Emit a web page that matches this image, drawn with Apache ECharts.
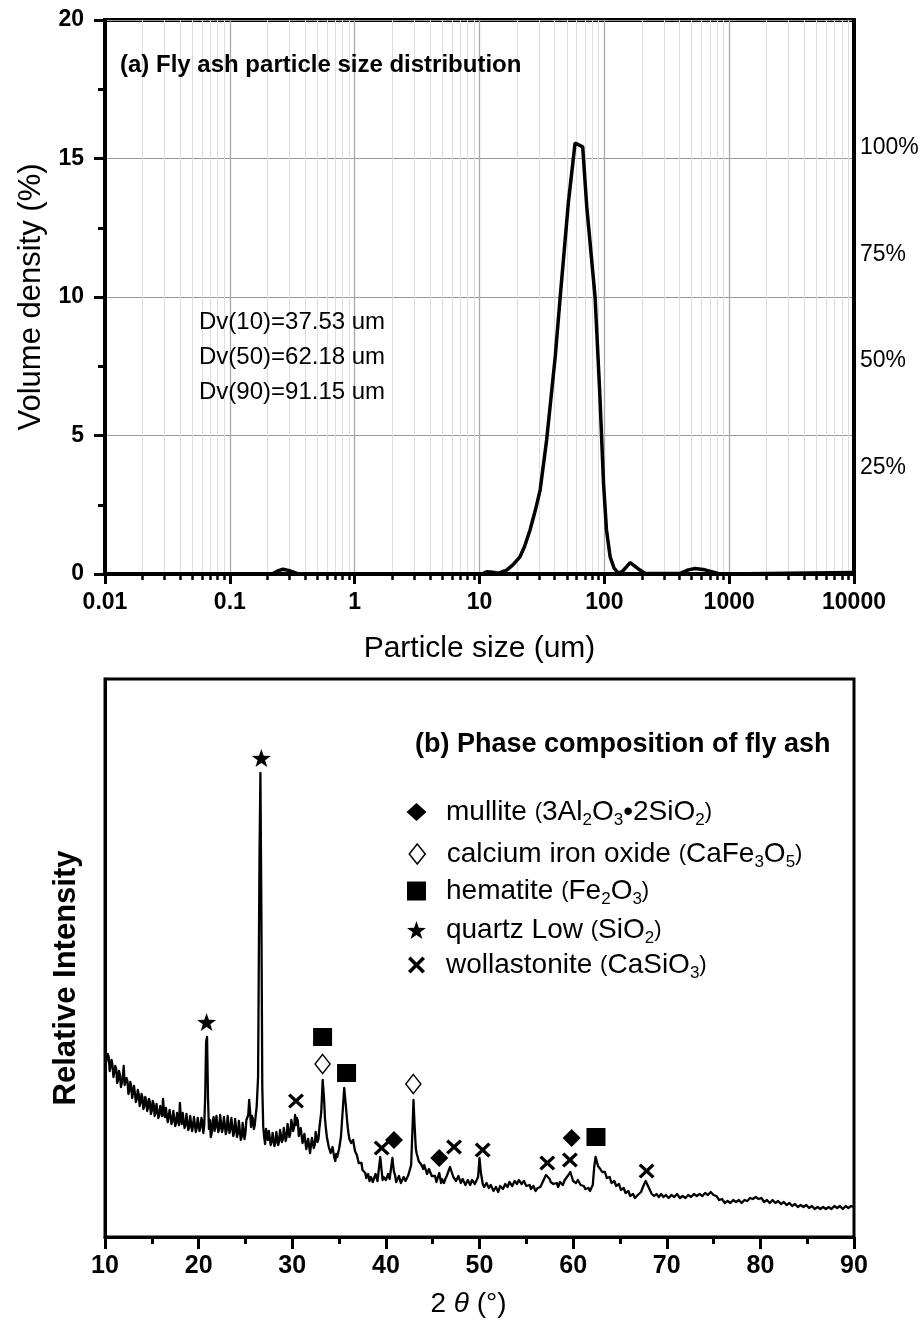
<!DOCTYPE html>
<html><head><meta charset="utf-8">
<script src="https://cdn.jsdelivr.net/npm/echarts@6/dist/echarts.min.js"></script>
<style>html,body{margin:0;padding:0;background:#fff}#c{width:922px;height:1324px}</style>
</head><body><div id="c"></div>
<script>
// ---------- (a) particle size distribution ----------
const psdSize = [0.01, 0.2, 0.222, 0.245, 0.267, 0.295, 0.345, 0.4, 10.5, 11.4, 12.8, 14.2, 16.5, 18.5, 21.1, 23, 25.4, 28, 30.6, 34.5, 40.4, 44.3, 51.5, 58.3, 67.1, 72.3, 84.3, 92, 98.5, 104, 111.3, 120, 129.6, 140, 161, 185, 212, 405, 470, 534, 640, 817, 950, 10000];
const psdDensity = [0, 0, 0.02, 0.12, 0.17, 0.13, 0.02, 0, 0, 0.08, 0.06, 0.03, 0.14, 0.33, 0.62, 1.0, 1.59, 2.3, 3.03, 4.84, 7.83, 10.0, 13.4, 15.56, 15.42, 13.26, 10.0, 6.5, 3.28, 1.6, 0.62, 0.2, 0.03, 0.1, 0.41, 0.2, 0.02, 0.02, 0.15, 0.2, 0.15, 0.02, 0, 0.05];
const psdDecadeTicks = [0.01, 0.1, 1, 10, 100, 1000, 10000];
const psdMinorMantissa = [2, 3, 4, 5, 6, 7, 8, 9];
const cumulativeLabels = [25, 50, 75, 100];
const dvLines = ['Dv(10)=37.53 um', 'Dv(50)=62.18 um', 'Dv(90)=91.15 um'];

// ---------- (b) XRD pattern ----------
const xrdPoints = [
[10.0,185],[10.1,174],[10.2,176],[10.3,183],[10.4,180],[10.5,166],[10.6,168],[10.7,177],[10.8,172],[10.9,160],[11.0,161],[11.1,171],[11.2,168],[11.3,154],[11.4,157],[11.5,166],[11.6,162],[11.7,150],[11.8,154],[11.9,160],
[12.0,171],[12.1,152],[12.2,150],[12.3,159],[12.4,156],[12.5,143],[12.6,146],[12.7,155],[12.8,151],[12.9,139],[13.0,141],[13.1,151],[13.2,149],[13.3,135],[13.4,138],[13.5,147],[13.6,143],[13.7,131],[13.8,134],[13.9,143],
[14.0,140],[14.1,128],[14.2,131],[14.3,140],[14.4,137],[14.5,126],[14.6,129],[14.7,138],[14.8,135],[14.9,123],[15.0,126],[15.1,136],[15.2,133],[15.3,121],[15.4,124],[15.5,133],[15.6,131],[15.7,119],[15.8,122],[15.9,131],
[16.0,128],[16.1,121],[16.2,138],[16.3,125],[16.4,120],[16.5,129],[16.6,127],[16.7,115],[16.8,117],[16.9,127],[17.0,126],[17.1,113],[17.2,116],[17.3,126],[17.4,124],[17.5,111],[17.6,114],[17.7,124],[17.8,122],[17.9,112],
[18.0,134],[18.1,120],[18.2,113],[18.3,124],[18.4,123],[18.5,109],[18.6,112],[18.7,123],[18.8,121],[18.9,107],[19.0,110],[19.1,121],[19.2,120],[19.3,106],[19.4,111],[19.5,120],[19.6,118],[19.7,105],[19.8,109],[19.9,119],
[20.0,117],[20.1,106],[20.2,110],[20.3,119],[20.4,116],[20.5,104],[20.6,112],[20.7,140],[20.8,195],[20.9,200],[21.0,140],[21.1,108],[21.2,117],[21.3,100],
[21.4,104],[21.5,116],[21.6,120],[21.7,106],[21.8,110],[21.9,121],[22.0,119],[22.1,105],[22.2,108],[22.3,122],[22.4,121],[22.5,105],[22.6,109],[22.7,120],[22.8,118],[22.9,103],[23.0,107],[23.1,121],[23.2,119],[23.3,104],
[23.4,108],[23.5,119],[23.6,117],[23.7,101],[23.8,105],[23.9,118],[24.0,116],[24.1,100],[24.2,104],[24.3,116],[24.4,114],[24.5,97],[24.6,100],[24.7,114],[24.8,112],[24.9,98],[25.0,104],[25.1,117],[25.2,115],[25.3,122],
[25.4,137],[25.5,125],[25.6,110],[25.7,121],[25.8,118],[25.9,108],[26.0,112],[26.1,122],[26.2,130],[26.35,160],[26.5,380],[26.6,464],[26.7,330],
[26.8,150],[26.9,110],[27.0,100],[27.1,93],[27.2,108],[27.3,101],[27.4,97],[27.5,106],[27.6,105],[27.7,92],[27.8,95],[27.9,104],[28.0,103],[28.1,91],[28.2,94],[28.3,105],[28.4,104],[28.5,92],
[28.6,96],[28.7,107],[28.8,106],[28.9,95],[29.0,98],[29.1,109],[29.2,108],[29.3,96],[29.4,100],[29.5,113],[29.6,112],[29.7,100],[29.8,104],[29.9,117],[30.0,116],[30.1,106],[30.2,110],[30.3,122],
[30.4,112],[30.5,119],[30.6,116],[30.7,101],[30.8,102],[30.9,109],[31.0,107],[31.1,94],[31.2,96],[31.3,103],[31.4,101],[31.5,88],[31.6,90],[31.7,98],[31.8,96],[31.9,84],[32.0,86],[32.1,99],[32.2,98],
[32.3,89],[32.4,92],[32.5,105],[32.6,104],[32.7,95],[32.8,98],[32.9,109],[33.0,108],[33.1,125],[33.25,157],[33.4,138],[33.5,118],[33.6,108],[33.7,100],[33.8,98],
[33.9,90],[34.0,92],[34.1,84],[34.2,86],[34.3,90],[34.4,88],[34.5,79],[34.6,76],[34.7,83],[34.8,80],[34.9,84],[35.0,88],[35.2,100],[35.4,128],[35.55,149],[35.7,134],
[35.9,112],[36.0,104],[36.1,98],[36.2,100],[36.3,94],[36.4,93],[36.5,97],[36.6,95],[36.7,86],[36.8,84],[36.9,82],[37.0,80],[37.1,74],[37.2,73],[37.3,76],[37.4,74],[37.5,67],[37.6,65],
[37.7,67],[37.8,64],[37.9,59],[38.0,60],[38.1,63],[38.25,56],[38.4,60],[38.5,62],[38.6,55],[38.75,57],[38.9,63],[39.0,61],[39.1,56],[39.25,58],[39.4,80],[39.55,66],[39.65,57],[39.75,60],
[39.9,62],[40.0,57],[40.1,55],[40.25,63],[40.4,58],[40.5,60],[40.7,79],[40.85,66],[41.0,61],[41.1,55],[41.25,56],[41.4,61],[41.5,59],[41.6,54],[41.75,55],[41.9,60],[42.0,61],
[42.1,56],[42.25,58],[42.4,62],[42.5,64],[42.7,72],[42.85,110],[42.95,137],[43.05,115],[43.2,88],[43.3,83],[43.4,80],[43.5,76],[43.6,74],[43.7,75],[43.8,72],
[43.9,70],[44.0,68],[44.1,72],[44.25,70],[44.4,63],[44.5,64],[44.6,68],[44.75,66],[44.9,61],[45.0,60],[45.1,63],[45.25,61],[45.4,55],[45.5,56],[45.7,64],[45.9,54],[46.0,58],[46.1,57],
[46.2,54],[46.35,58],[46.5,61],[46.6,63],[46.85,70],[47.1,63],[47.2,60],[47.35,61],[47.5,56],[47.6,58],[47.75,61],[47.85,59],[48.0,54],[48.1,55],[48.2,58],[48.35,57],[48.5,52],[48.6,53],
[48.75,57],[48.85,56],[49.0,52],[49.1,53],[49.2,57],[49.35,56],[49.5,53],[49.6,54],[49.85,60],[50.0,79],[50.15,64],[50.35,53],[50.5,50],[50.6,51],[50.75,54],[50.85,53],
[51.0,49],[51.1,48],[51.2,52],[51.35,51],[51.5,46],[51.6,46],[51.75,50],[51.85,49],[52.0,45],[52.1,47],[52.2,51],[52.35,51],[52.5,48],[52.6,49],[52.75,53],[52.85,53],[53.0,50],[53.1,51],[53.2,55],[53.35,54],
[53.5,51],[53.6,52],[53.75,56],[53.85,56],[54.0,53],[54.1,54],[54.2,57],[54.35,57],[54.5,53],[54.6,54],[54.75,56],[54.85,55],[55.0,51],[55.1,51],[55.2,53],[55.35,52],[55.5,48],[55.6,48],[55.75,51],[55.85,50],
[56.0,46],[56.1,46],[56.2,49],[56.35,49],[56.5,50],[56.6,51],[56.85,57],[57.1,62],[57.3,64],[57.5,58],[57.6,55],[57.75,55],[57.9,53],[58.0,52],[58.1,55],[58.25,54],
[58.4,50],[58.5,51],[58.6,55],[58.75,55],[58.9,52],[59.0,53],[59.1,57],[59.25,57],[59.5,62],[59.7,65],[59.9,59],[60.0,56],[60.15,57],[60.3,54],[60.4,55],[60.5,57],[60.65,56],
[60.8,52],[60.9,52],[61.0,54],[61.15,51],[61.3,48],[61.4,47],[61.5,50],[61.65,49],[61.8,46],[61.9,46],[62.1,52],[62.25,70],[62.4,80],[62.55,75],[62.65,71],[62.75,70],
[62.9,68],[63.0,69],[63.1,65],[63.25,64],[63.4,65],[63.5,63],[63.6,59],[63.75,58],[63.9,60],[64.0,58],[64.1,54],[64.25,54],[64.4,56],[64.5,55],[64.6,51],[64.75,51],[64.9,53],[65.0,51],[65.1,47],[65.25,48],
[65.4,49],[65.5,48],[65.6,44],[65.75,45],[65.9,46],[66.0,44],[66.1,41],[66.25,42],[66.4,43],[66.5,42],[66.6,39],[66.75,40],[66.9,42],[67.0,42],[67.25,45],[67.5,51],[67.75,56],
[67.95,54],[68.15,48],[68.4,43],[68.65,41],[68.9,43],[69.15,40],[69.4,43],[69.65,40],[69.9,42],[70.2,39],
[70.5,42],[70.8,40],[71.1,43],[71.4,39],[71.7,41],[72.0,39],[72.3,42],[72.6,40],[72.9,43],[73.2,41],
[73.5,43],[73.8,41],[74.1,44],[74.4,42],[74.7,45],[75.0,42],[75.3,41],[75.6,37],[75.9,38],[76.2,34],
[76.5,36],[76.8,34],[77.1,37],[77.4,35],[77.7,37],[78.0,34],[78.3,37],[78.6,36],[78.9,39],[79.2,38],
[79.5,40],[79.8,38],[80.1,39],[80.4,35],[80.7,37],[81.0,34],[81.3,37],[81.6,34],[81.9,36],[82.2,33],
[82.5,35],[82.8,32],[83.1,34],[83.4,31],[83.7,33],[84.0,30],[84.3,32],[84.6,30],[84.9,32],[85.2,29],
[85.5,31],[85.8,28],[86.1,30],[86.4,28],[86.7,30],[87.0,28],[87.3,30],[87.6,28],[87.9,31],[88.2,29],
[88.5,31],[88.8,28],[89.1,31],[89.4,29],[89.7,31],[90.0,30]
];
const mullitePeaks = [[40.87, 97], [45.7, 79], [59.84, 99]];
const calciumPeaks = [[33.24, 173], [42.93, 153]];
const hematitePeaks = [[33.24, 200], [35.8, 164], [62.44, 100]];
const quartzPeaks = [[20.85, 215], [26.7, 479]];
const wollastonitePeaks = [[30.4, 136], [39.55, 89], [47.28, 90], [50.34, 87], [57.24, 74], [59.66, 77], [67.85, 66]];
const phaseNames = ['mullite', 'calcium iron oxide', 'hematite', 'quartz Low', 'wollastonite'];

const FF = '"Liberation Sans", Arial, Helvetica, sans-serif';
const STAR = 'path://M10,0 L12.35,6.76 L19.51,6.91 L13.8,11.24 L15.88,18.09 L10,14 L4.12,18.09 L6.2,11.24 L0.49,6.91 L7.65,6.76 Z';
const CROSS = 'path://M1.5,0 L5,3.5 L8.5,0 L10,1.5 L6.5,5 L10,8.5 L8.5,10 L5,6.5 L1.5,10 L0,8.5 L3.5,5 L0,1.5 Z';

const log10 = v => Math.log10(v);
const psdData = psdSize.map((s, i) => [log10(s), psdDensity[i]]);
const decadeExp = psdDecadeTicks.map(log10);
const minorExp = [];
decadeExp.slice(0, -1).forEach(e => psdMinorMantissa.forEach(m => minorExp.push(e + log10(m))));

const chart = echarts.init(document.getElementById('c'), null, {renderer: 'canvas'});

const richBase = {
  t: {fontSize: 28, lineHeight: 34, verticalAlign: 'middle', fontFamily: FF, color: '#000'},
  p: {fontSize: 22, lineHeight: 34, verticalAlign: 'middle', fontFamily: FF, color: '#000'},
  s: {fontSize: 17, lineHeight: 12, verticalAlign: 'bottom', fontFamily: FF, color: '#000'}
};
function legendFor(name, icon, w, h, cy, text, style) {
  const left = 416.5 - w / 2;
  const gap = 446 - (left + w + 5);
  const rich = Object.assign({}, richBase, {g: {fontSize: 10, width: gap}});
  return {
    orient: 'vertical', left: left, top: cy - 17, padding: 0, itemGap: 0,
    itemWidth: w, itemHeight: h, selectedMode: false,
    data: [{name: name, icon: icon}],
    itemStyle: style,
    formatter: () => '{g| }' + text,
    textStyle: {fontSize: 28, color: '#000', fontFamily: FF, rich: rich}
  };
}
function label(x, y, text, size, bold) {
  return {type: 'text', x: x, y: y, z: 100, silent: true,
    style: {text: text, fontSize: size, fontWeight: bold ? 'bold' : 'normal', fontFamily: FF, fill: '#000',
      align: 'left', verticalAlign: 'middle', textAlign: 'left', textVerticalAlign: 'middle'}};
}

const blackFill = {color: '#000', borderWidth: 0, opacity: 1};
const openFill = {color: '#fff', borderColor: '#000', borderWidth: 1.5, opacity: 1};

const option = {
  backgroundColor: '#fff',
  animation: false,
  textStyle: {fontFamily: FF},
  grid: [
    {left: 105, top: 20, width: 749, height: 554, show: true, borderColor: '#000', borderWidth: 4, backgroundColor: 'rgba(0,0,0,0)', containLabel: false, outerBoundsMode: 'none'},
    {left: 105, top: 679, width: 749, height: 558, show: true, borderColor: '#000', borderWidth: 3, backgroundColor: 'rgba(0,0,0,0)', containLabel: false, outerBoundsMode: 'none'}
  ],
  xAxis: [
    {gridIndex: 0, type: 'value', min: -2, max: 4, interval: 1, position: 'bottom',
      axisLine: {show: true, onZero: false, lineStyle: {color: '#000', width: 4}},
      axisTick: {show: true, inside: false, length: 10, lineStyle: {color: '#000', width: 3}},
      axisLabel: {show: true, margin: 17, fontSize: 23, fontWeight: 'bold', color: '#000', fontFamily: FF,
        showMinLabel: true, showMaxLabel: true,
        formatter: v => { const p = Math.round(v); return p < 0 ? Math.pow(10, p).toFixed(-p) : String(Math.pow(10, p)); }},
      splitLine: {show: true, lineStyle: {color: '#a9a9a9', width: 1.3}},
      name: 'Particle size (um)', nameLocation: 'middle', nameGap: 60, nameMoveOverlap: false,
      nameTextStyle: {fontSize: 30, color: '#000', fontFamily: FF}},
    {gridIndex: 0, type: 'value', min: -2, max: 4, position: 'bottom',
      axisLine: {show: false, onZero: false},
      axisTick: {show: true, inside: false, length: 6, customValues: minorExp, lineStyle: {color: '#000', width: 2.5}},
      axisLabel: {show: false},
      splitLine: {show: true, lineStyle: {color: '#dedede', width: 1}}},
    {gridIndex: 1, type: 'value', min: 10, max: 90, interval: 10, position: 'bottom',
      axisLine: {show: true, onZero: false, lineStyle: {color: '#000', width: 3}},
      axisTick: {show: true, inside: false, length: 12, lineStyle: {color: '#000', width: 3}},
      minorTick: {show: true, splitNumber: 2, length: 7, lineStyle: {color: '#000', width: 3}},
      axisLabel: {show: true, margin: 17, fontSize: 25, fontWeight: 'bold', color: '#000', fontFamily: FF, showMinLabel: true, showMaxLabel: true},
      splitLine: {show: false},
      name: '2 {i|θ} (°)', nameLocation: 'middle', nameGap: 53, nameMoveOverlap: false,
      nameTextStyle: {fontSize: 28, color: '#000', fontFamily: FF, padding: [0, 22, 0, 0],
        rich: {i: {fontSize: 28, fontStyle: 'italic', color: '#000', fontFamily: FF}}}}
  ],
  yAxis: [
    {gridIndex: 0, type: 'value', min: 0, max: 20, interval: 5, position: 'left',
      axisLine: {show: true, onZero: false, lineStyle: {color: '#000', width: 4}},
      axisTick: {show: true, inside: false, length: 11, lineStyle: {color: '#000', width: 3}},
      minorTick: {show: true, splitNumber: 2, length: 7, lineStyle: {color: '#000', width: 3}},
      axisLabel: {show: true, margin: 21, fontSize: 23, fontWeight: 'bold', color: '#000', fontFamily: FF, showMinLabel: true, showMaxLabel: true},
      splitLine: {show: true, lineStyle: {color: '#999', width: 1}},
      name: 'Volume density (%)', nameLocation: 'middle', nameGap: 58, nameRotate: 90, nameMoveOverlap: false,
      nameTextStyle: {fontSize: 31, color: '#000', fontFamily: FF}},
    {gridIndex: 0, type: 'value', min: 0, max: 130, interval: 25, position: 'right',
      axisLine: {show: true, onZero: false, lineStyle: {color: '#000', width: 4}},
      axisTick: {show: false},
      axisLabel: {show: true, margin: 6, fontSize: 23, color: '#000', fontFamily: FF,
        formatter: v => cumulativeLabels.indexOf(v) >= 0 ? v + '%' : ''},
      splitLine: {show: false}},
    {gridIndex: 1, type: 'value', min: 0, max: 558, position: 'left',
      axisLine: {show: true, onZero: false, lineStyle: {color: '#000', width: 3}},
      axisTick: {show: false}, axisLabel: {show: false}, splitLine: {show: false},
      name: 'Relative Intensity', nameLocation: 'middle', nameGap: 23, nameRotate: 90, nameMoveOverlap: false,
      nameTextStyle: {fontSize: 31, fontWeight: 'bold', color: '#000', fontFamily: FF, padding: [0, 40, 0, 0]}}
  ],
  legend: [
    legendFor(phaseNames[0], 'diamond', 20, 18, 815, '{t|mullite }{p|(}{t|3Al}{s|2}{t|O}{s|3}{t|•2SiO}{s|2}{p|)}', blackFill),
    legendFor(phaseNames[1], 'diamond', 16, 20, 857, '{t|calcium iron oxide }{p|(}{t|CaFe}{s|3}{t|O}{s|5}{p|)}', openFill),
    legendFor(phaseNames[2], 'rect', 19, 19, 894, '{t|hematite }{p|(}{t|Fe}{s|2}{t|O}{s|3}{p|)}', blackFill),
    legendFor(phaseNames[3], STAR, 19, 18, 933, '{t|quartz Low }{p|(}{t|SiO}{s|2}{p|)}', blackFill),
    legendFor(phaseNames[4], CROSS, 17, 17, 968, '{t|wollastonite }{p|(}{t|CaSiO}{s|3}{p|)}', blackFill)
  ],
  graphic: {elements: [
    label(120, 65, '(a) Fly ash particle size distribution', 24, true),
    label(199, 322, dvLines[0], 24, false),
    label(199, 357, dvLines[1], 24, false),
    label(199, 392, dvLines[2], 24, false),
    label(415, 745, '(b) Phase composition of fly ash', 27, true)
  ]},
  series: [
    {name: 'Volume density', type: 'line', xAxisIndex: 0, yAxisIndex: 0, data: psdData, showSymbol: false, symbol: 'none', smooth: false,
      lineStyle: {color: '#000', width: 3.5}, itemStyle: {color: '#000'}, z: 3, silent: true},
    {name: 'XRD', type: 'line', xAxisIndex: 2, yAxisIndex: 2, data: xrdPoints, showSymbol: false, symbol: 'none', smooth: false, sampling: null,
      lineStyle: {color: '#000', width: 2.3, join: 'round'}, itemStyle: {color: '#000'}, z: 3, silent: true},
    {name: phaseNames[0], type: 'scatter', xAxisIndex: 2, yAxisIndex: 2, data: mullitePeaks, symbol: 'diamond', symbolSize: [18, 18], itemStyle: blackFill, z: 5, silent: true},
    {name: phaseNames[1], type: 'scatter', xAxisIndex: 2, yAxisIndex: 2, data: calciumPeaks, symbol: 'diamond', symbolSize: [15, 19], itemStyle: openFill, z: 5, silent: true},
    {name: phaseNames[2], type: 'scatter', xAxisIndex: 2, yAxisIndex: 2, data: hematitePeaks, symbol: 'rect', symbolSize: [19, 18], itemStyle: blackFill, z: 5, silent: true},
    {name: phaseNames[3], type: 'scatter', xAxisIndex: 2, yAxisIndex: 2, data: quartzPeaks, symbol: STAR, symbolSize: [19, 18], itemStyle: blackFill, z: 5, silent: true},
    {name: phaseNames[4], type: 'scatter', xAxisIndex: 2, yAxisIndex: 2, data: wollastonitePeaks, symbol: CROSS, symbolSize: [16, 15], itemStyle: blackFill, z: 5, silent: true}
  ]
};
chart.setOption(option);
</script></body></html>
